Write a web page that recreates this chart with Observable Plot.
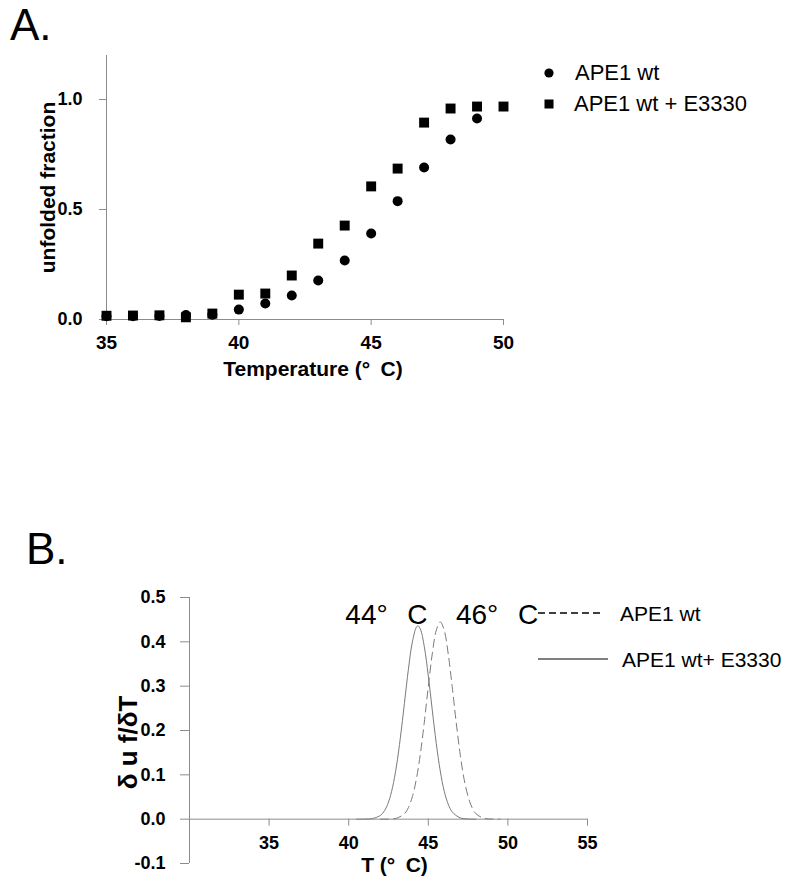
<!DOCTYPE html>
<html>
<head>
<meta charset="utf-8">
<script src="https://cdn.jsdelivr.net/npm/d3@7"></script>
<script src="https://cdn.jsdelivr.net/npm/@observablehq/plot@0.6"></script>
<style>
  html, body { margin: 0; padding: 0; background: #fff; }
  #root { position: relative; width: 800px; height: 895px; overflow: hidden; font-family: "Liberation Sans", Arial, sans-serif; }
  .abs { position: absolute; white-space: pre; color: #000; line-height: 1; }
  #root svg { display: block; }
</style>
</head>
<body>
<div id="root"></div>
<script>
// ---------- Panel A data ----------
const tempsWt = [35, 36, 37, 38, 39, 40, 41, 42, 43, 44, 45, 46, 47, 48, 49];
const fracWt  = [0.015, 0.015, 0.016, 0.020, 0.022, 0.045, 0.073, 0.109, 0.177, 0.268, 0.391, 0.538, 0.691, 0.818, 0.914];
const tempsWtE = [35, 36, 37, 38, 39, 40, 41, 42, 43, 44, 45, 46, 47, 48, 49, 50];
const fracWtE  = [0.017, 0.018, 0.019, 0.010, 0.027, 0.113, 0.118, 0.200, 0.345, 0.427, 0.605, 0.686, 0.895, 0.959, 0.968, 0.968];
const ticksAx = [35, 40, 45, 50];
const ticksAy = [0, 0.5, 1.0];
const seriesA = ["APE1 wt", "APE1 wt + E3330"];

// ---------- Panel B data ----------
const tSolid = [40.5, 41, 41.5, 42, 42.25, 42.5, 42.75, 43, 43.25, 43.5, 43.75, 44, 44.25, 44.35, 44.5, 44.75, 45, 45.25, 45.5, 45.75, 46, 46.25, 46.5, 47, 47.5, 48];
const vSolid = [0, 0.0002, 0.0014, 0.0087, 0.0191, 0.0385, 0.0711, 0.1198, 0.185, 0.261, 0.338, 0.400, 0.433, 0.436, 0.429, 0.389, 0.323, 0.246, 0.171, 0.109, 0.063, 0.034, 0.0165, 0.003, 0.0004, 0];
const tDashed = [42, 42.5, 43, 43.5, 43.75, 44, 44.25, 44.5, 44.75, 45, 45.25, 45.5, 45.75, 46, 46.25, 46.5, 46.75, 47, 47.25, 47.5, 47.75, 48, 48.5, 49, 49.5];
const vDashed = [0, 0.0002, 0.0021, 0.0123, 0.0261, 0.0508, 0.0903, 0.147, 0.219, 0.299, 0.373, 0.426, 0.445, 0.426, 0.373, 0.299, 0.219, 0.147, 0.090, 0.051, 0.026, 0.012, 0.002, 0.0002, 0];
const ticksBx = [35, 40, 45, 50, 55];
const ticksBy = [-0.1, 0, 0.1, 0.2, 0.3, 0.4, 0.5];
const seriesB = ["APE1 wt", "APE1 wt+ E3330"];
const peakLabels = ["44°\u2002\u2009C", "46°\u2002\u2009C"];
const peakLabelX = [44.95, 51.9];
const peakLabelY = [0.44, 0.44];

const FONT = "Liberation Sans, Arial, sans-serif";
const AXIS = "#8c8c8c";
const fmt1 = d => d.toFixed(1);
const root = document.getElementById("root");

// ---------- Panel A ----------
const ptsWt = tempsWt.map((t, i) => ({t, v: fracWt[i]}));
const ptsWtE = tempsWtE.map((t, i) => ({t, v: fracWtE[i]}));

const chartA = Plot.plot({
  width: 800, height: 400,
  marginTop: 55, marginBottom: 81, marginLeft: 106, marginRight: 297,
  style: {fontFamily: FONT, background: "transparent", overflow: "visible"},
  x: {domain: [35, 50], axis: null},
  y: {domain: [0, 1.2], axis: null},
  marks: [
    Plot.ruleX([35], {stroke: AXIS, strokeWidth: 1}),
    Plot.ruleY([0], {stroke: AXIS, strokeWidth: 1}),
    Plot.axisX({ticks: ticksAx, tickSize: 6, tickPadding: 10, stroke: AXIS, fontSize: 19, fontWeight: "bold", fill: "#000", label: null, tickFormat: d => d}),
    Plot.axisY({ticks: ticksAy, tickSize: 7, tickPadding: 17, stroke: AXIS, fontSize: 18, fontWeight: "bold", fill: "#000", label: null, tickFormat: fmt1}),
    Plot.dot(ptsWt, {x: "t", y: "v", r: 5, fill: "#000", stroke: "none"}),
    Plot.dot(ptsWtE, {x: "t", y: "v", r: 5.6, symbol: "square", fill: "#000", stroke: "none"}),
    Plot.text(["Temperature (°\u2002C)"], {frameAnchor: "bottom", dy: 56, dx: 8, fontSize: 21, fontWeight: "bold", fill: "#000"}),
    Plot.text(["unfolded fraction"], {frameAnchor: "left", textAnchor: "middle", dx: -58, rotate: -90, fontSize: 21, fontWeight: "bold", fill: "#000"})
  ]
});
chartA.style.position = "absolute";
chartA.style.left = "0px";
chartA.style.top = "0px";
root.appendChild(chartA);

// ---------- Panel B ----------
const curveSolid = tSolid.map((t, i) => ({t, v: vSolid[i]}));
const curveDashed = tDashed.map((t, i) => ({t, v: vDashed[i]}));
const peaks = peakLabels.map((s, i) => ({s, x: peakLabelX[i], y: peakLabelY[i]}));

const chartB = Plot.plot({
  width: 800, height: 415,
  marginTop: 117, marginBottom: 32, marginLeft: 189, marginRight: 213,
  style: {fontFamily: FONT, background: "transparent", overflow: "visible"},
  x: {domain: [30, 55], axis: null},
  y: {domain: [-0.1, 0.5], axis: null},
  marks: [
    Plot.ruleX([30], {stroke: AXIS, strokeWidth: 1}),
    Plot.ruleY([0], {stroke: AXIS, strokeWidth: 1}),
    Plot.ruleX(ticksBx, {x: d => d, y1: 0, y2: 0, insetBottom: -7, stroke: AXIS}),
    Plot.text(ticksBx, {x: d => d, y: 0, dy: 24, text: d => String(d), fontSize: 18, fontWeight: "bold", fill: "#000"}),
    Plot.axisY({ticks: ticksBy, tickSize: 9, tickPadding: 15, stroke: AXIS, fontSize: 18, fontWeight: "bold", fill: "#000", label: null, tickFormat: fmt1}),
    Plot.line(curveDashed, {x: "t", y: "v", stroke: "#7a7a7a", strokeWidth: 1, strokeDasharray: "8,5", curve: "catmull-rom"}),
    Plot.line(curveSolid, {x: "t", y: "v", stroke: "#7a7a7a", strokeWidth: 1, curve: "catmull-rom"}),
    Plot.text(peaks, {x: "x", y: "y", text: "s", textAnchor: "end", lineAnchor: "bottom", fontSize: 28, fill: "#000"}),
    Plot.text(["T (°\u2002C)"], {frameAnchor: "bottom", dy: 8, dx: 6, fontSize: 21, fontWeight: "bold", fill: "#000"}),
    Plot.text(["δ u f/δT"], {frameAnchor: "left", textAnchor: "middle", dx: -61, dy: 12, rotate: -90, fontSize: 26, fontWeight: "bold", fill: "#000"})
  ]
});
chartB.style.position = "absolute";
chartB.style.left = "0px";
chartB.style.top = "480px";
root.appendChild(chartB);

// ---------- Panel titles & legends (HTML overlays) ----------
function addText(txt, left, top, size, weight) {
  const d = document.createElement("div");
  d.className = "abs";
  d.textContent = txt;
  d.style.left = left + "px";
  d.style.top = top + "px";
  d.style.fontSize = size + "px";
  d.style.fontWeight = weight || "normal";
  root.appendChild(d);
  return d;
}
function addSvg(left, top, w, h, inner) {
  const ns = "http://www.w3.org/2000/svg";
  const s = document.createElementNS(ns, "svg");
  s.setAttribute("width", w); s.setAttribute("height", h);
  s.style.position = "absolute"; s.style.left = left + "px"; s.style.top = top + "px";
  s.innerHTML = inner;
  root.appendChild(s);
}
addText("A.", 10, 3, 44);
addText("B.", 26, 527, 44);

// Legend A
addSvg(543, 67, 12, 12, '<circle cx="6" cy="6" r="4.6" fill="#000"/>');
addSvg(543, 98, 12, 12, '<rect x="1.5" y="1.5" width="9" height="9" fill="#000"/>');
addText(seriesA[0], 575, 62, 22);
addText(seriesA[1], 574, 93, 22);

// Legend B
addSvg(536, 608, 72, 10, '<line x1="2" y1="5" x2="68" y2="5" stroke="#000" stroke-width="1.3" stroke-dasharray="7,4"/>');
addSvg(536, 654, 74, 10, '<line x1="2" y1="5" x2="72" y2="5" stroke="#000" stroke-width="1.2"/>');
addText(seriesB[0], 620, 603, 21);
addText(seriesB[1], 622, 649, 21);
</script>
</body>
</html>
